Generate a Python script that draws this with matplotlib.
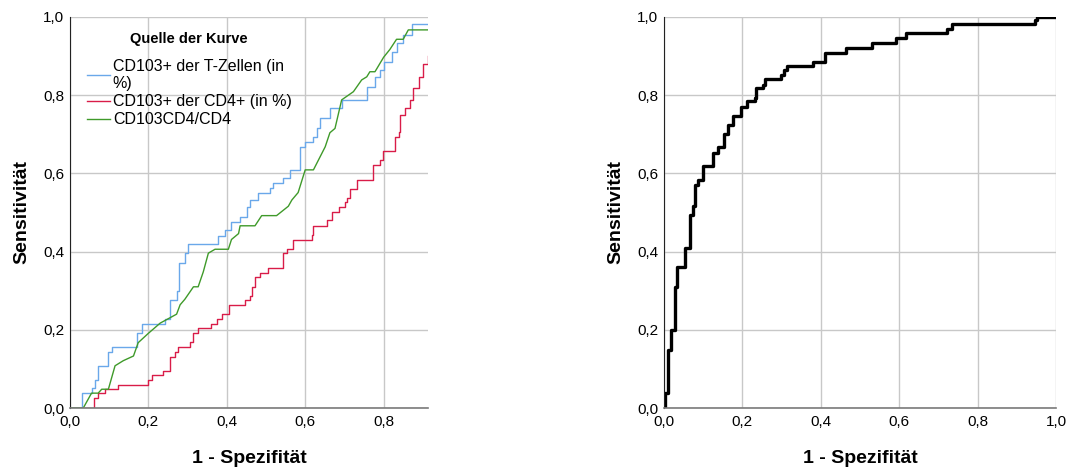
import matplotlib
matplotlib.use("Agg")
from matplotlib import pyplot as plt
from matplotlib.ticker import FuncFormatter

# Kurvendaten: 1 - Spezifität, Sensitivität
tz_x = [0.0, 0.027, 0.030, 0.051, 0.055, 0.064, 0.072, 0.085, 0.098, 0.106, 0.162, 0.170, 0.183,
        0.230, 0.242, 0.255, 0.272, 0.279, 0.293, 0.300, 0.361, 0.378, 0.395, 0.412, 0.434,
        0.451, 0.459, 0.480, 0.510, 0.519, 0.544, 0.561, 0.582, 0.587, 0.600, 0.621, 0.629,
        0.638, 0.663, 0.693, 0.753, 0.757, 0.778, 0.791, 0.800, 0.812, 0.821, 0.834, 0.850,
        0.872, 0.913]
tz_y = [0.0, 0.0, 0.038, 0.038, 0.050, 0.072, 0.108, 0.108, 0.144, 0.157, 0.157, 0.191, 0.215,
        0.215, 0.228, 0.276, 0.300, 0.370, 0.396, 0.419, 0.419, 0.440, 0.455, 0.476, 0.489,
        0.515, 0.532, 0.551, 0.562, 0.575, 0.588, 0.609, 0.609, 0.668, 0.681, 0.694, 0.715,
        0.741, 0.766, 0.788, 0.788, 0.822, 0.847, 0.865, 0.886, 0.886, 0.911, 0.933, 0.954,
        0.982, 0.982]

cd4_x = [0.0, 0.0595, 0.062, 0.072, 0.089, 0.119, 0.123, 0.196, 0.200, 0.208, 0.234, 0.238, 0.251,
         0.255, 0.268, 0.276, 0.302, 0.306, 0.315, 0.327, 0.357, 0.361, 0.374, 0.387, 0.404,
         0.406, 0.442, 0.446, 0.459, 0.464, 0.472, 0.485, 0.506, 0.540, 0.544, 0.553, 0.570,
         0.608, 0.617, 0.621, 0.651, 0.655, 0.668, 0.685, 0.702, 0.706, 0.714, 0.731, 0.770,
         0.774, 0.791, 0.798, 0.825, 0.829, 0.838, 0.842, 0.855, 0.867, 0.876, 0.889, 0.901,
         0.913]
cd4_y = [0.0, 0.0, 0.025, 0.038, 0.048, 0.048, 0.060, 0.060, 0.072, 0.084, 0.084, 0.095, 0.095,
         0.131, 0.144, 0.157, 0.157, 0.170, 0.191, 0.204, 0.204, 0.215, 0.227, 0.240, 0.240,
         0.264, 0.264, 0.276, 0.287, 0.310, 0.334, 0.346, 0.357, 0.357, 0.396, 0.406, 0.430,
         0.430, 0.442, 0.465, 0.465, 0.481, 0.502, 0.515, 0.528, 0.536, 0.560, 0.583, 0.583,
         0.622, 0.634, 0.656, 0.656, 0.694, 0.707, 0.749, 0.766, 0.788, 0.818, 0.847, 0.881,
         0.900]

ratio_x = [0.0, 0.034, 0.055, 0.072, 0.081, 0.098, 0.115, 0.136, 0.162, 0.174, 0.200, 0.230, 0.272,
           0.281, 0.293, 0.315, 0.327, 0.340, 0.353, 0.370, 0.404, 0.412, 0.430, 0.434, 0.472,
           0.489, 0.527, 0.557, 0.566, 0.582, 0.600, 0.621, 0.651, 0.663, 0.676, 0.693, 0.723,
           0.744, 0.757, 0.765, 0.778, 0.800, 0.816, 0.833, 0.850, 0.863, 0.913]
ratio_y = [0.0, 0.0, 0.038, 0.038, 0.048, 0.048, 0.108, 0.121, 0.133, 0.167, 0.191, 0.217, 0.240,
           0.264, 0.278, 0.310, 0.310, 0.348, 0.396, 0.406, 0.406, 0.431, 0.446, 0.466, 0.466,
           0.492, 0.492, 0.516, 0.532, 0.551, 0.609, 0.609, 0.668, 0.704, 0.715, 0.788, 0.809,
           0.839, 0.847, 0.860, 0.860, 0.897, 0.917, 0.943, 0.943, 0.967, 0.967]

comb_x = [0.0, 0.002, 0.011, 0.011, 0.017, 0.028, 0.028, 0.032, 0.045, 0.054, 0.054, 0.066, 0.066,
          0.073, 0.079, 0.079, 0.088, 0.099, 0.099, 0.122, 0.126, 0.139, 0.150, 0.153, 0.164,
          0.175, 0.194, 0.196, 0.211, 0.232, 0.235, 0.252, 0.258, 0.289, 0.298, 0.306, 0.313,
          0.379, 0.381, 0.402, 0.410, 0.462, 0.464, 0.530, 0.532, 0.589, 0.592, 0.615, 0.617,
          0.717, 0.721, 0.734, 0.734, 0.942, 0.946, 0.952, 1.0]
comb_y = [0.0, 0.038, 0.072, 0.148, 0.199, 0.234, 0.310, 0.361, 0.361, 0.387, 0.409, 0.420, 0.493,
          0.516, 0.532, 0.571, 0.583, 0.583, 0.619, 0.619, 0.653, 0.668, 0.668, 0.702, 0.724,
          0.747, 0.747, 0.771, 0.784, 0.792, 0.818, 0.826, 0.841, 0.841, 0.852, 0.865, 0.875,
          0.875, 0.886, 0.886, 0.909, 0.909, 0.920, 0.920, 0.933, 0.933, 0.946, 0.946, 0.958,
          0.958, 0.970, 0.970, 0.982, 0.982, 0.992, 1.0, 1.0]

ticks = [0.0, 0.2, 0.4, 0.6, 0.8, 1.0]
komma = FuncFormatter(lambda v, p: ("%.1f" % v).replace(".", ","))

plt.rcParams['font.family'] = ['Liberation Sans', 'DejaVu Sans']

fig = plt.figure(figsize=(10.73, 4.68), dpi=100)
ax1 = fig.add_axes([0.0652, 0.1282, 0.3336, 0.8355])
ax2 = fig.add_axes([0.6188, 0.1282, 0.3653, 0.8355])


def achsen(ax, xmax):
    ''' Gemeinsames Aussehen beider Diagramme '''
    ax.set_xlim(0, xmax)
    ax.set_ylim(0, 1.0)
    ax.set_xticks([t for t in ticks if t <= xmax])
    ax.set_yticks(ticks)
    ax.xaxis.set_major_formatter(komma)
    ax.yaxis.set_major_formatter(komma)
    ax.grid(True, color="#c8c8c8", linewidth=1.0)
    ax.set_axisbelow(True)
    ax.tick_params(length=0, labelsize=11, colors="#000000")
    ax.tick_params(axis="x", pad=5)
    ax.tick_params(axis="y", pad=4)
    for s in ["top", "right"]:
        ax.spines[s].set_visible(False)
    ax.spines["left"].set_color("#222222")
    ax.spines["bottom"].set_color("#7a7a7a")
    ax.spines["bottom"].set_linewidth(1.2)
    ax.set_xlabel("1 - Spezifität", fontsize=14, fontweight="bold", labelpad=15)
    ax.set_ylabel("Sensitivität", fontsize=14, fontweight="bold", labelpad=9)


achsen(ax1, 0.913)
ax1.plot(tz_x, tz_y, color="#6aa8ea", linewidth=1.0, drawstyle="steps-post",
         label="CD103+ der T-Zellen (in\n%)")
ax1.plot(cd4_x, cd4_y, color="#d91c48", linewidth=1.0, drawstyle="steps-post",
         label="CD103+ der CD4+ (in %)")
ax1.plot(ratio_x, ratio_y, color="#3f9a2a", linewidth=1.0, label="CD103CD4/CD4")
leg = ax1.legend(loc="upper left", bbox_to_anchor=(0.015, 0.99), frameon=False,
                 title="Quelle der Kurve", fontsize=11.5, handlelength=1.5,
                 handletextpad=0.15, labelspacing=0.2, borderpad=0.2)
leg.get_title().set_fontweight("bold")
leg.get_title().set_fontsize(10.5)
leg._legend_box.sep = 9

achsen(ax2, 1.0)
ax2.plot(comb_x, comb_y, color="#000000", linewidth=2.4, drawstyle="steps-post")

plt.savefig("out.png", dpi=100)
